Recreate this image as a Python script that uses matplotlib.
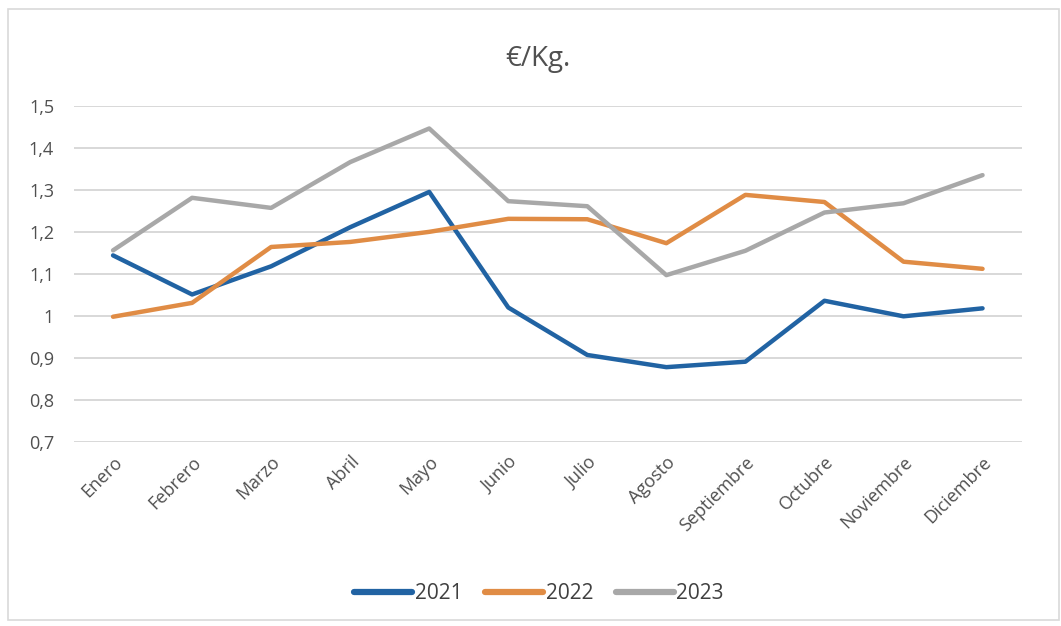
import matplotlib.pyplot as plt
from matplotlib.patches import Rectangle
from matplotlib.ticker import FuncFormatter

meses = ["Enero", "Febrero", "Marzo", "Abril", "Mayo", "Junio", "Julio",
         "Agosto", "Septiembre", "Octubre", "Noviembre", "Diciembre"]
v2021 = [1.144, 1.051, 1.118, 1.211, 1.295, 1.020, 0.907, 0.878, 0.891, 1.036, 0.999, 1.018]
v2022 = [0.998, 1.031, 1.164, 1.176, 1.200, 1.231, 1.230, 1.173, 1.288, 1.271, 1.129, 1.112]
v2023 = [1.156, 1.281, 1.257, 1.366, 1.446, 1.273, 1.261, 1.097, 1.155, 1.246, 1.268, 1.335]
series = [("2021", v2021, "#2163a3"), ("2022", v2022, "#e08c45"), ("2023", v2023, "#a8a8a8")]

plt.rcParams['font.family'] = ['Open Sans', 'DejaVu Sans']

fig = plt.figure(figsize=(10.61, 6.26), dpi=100)
ax = fig.add_axes([0.0693, 0.294, 0.894, 0.537])

x = range(len(meses))
for name, vals, col in series:
    ax.plot(x, vals, color=col, linewidth=3.2, label=name, solid_capstyle='round')

ax.set_xlim(-0.5, len(meses) - 0.5)
ax.set_ylim(0.7, 1.5)
ax.set_yticks([0.7, 0.8, 0.9, 1.0, 1.1, 1.2, 1.3, 1.4, 1.5])
ax.yaxis.set_major_formatter(FuncFormatter(lambda v, p: ("%g" % round(v, 1)).replace(".", ",")))
ax.set_xticks(list(x))
ax.set_xticklabels(meses, rotation=45, ha='right', rotation_mode='anchor')
ax.tick_params(axis='both', length=0, labelsize=13, labelcolor='#505050')
ax.tick_params(axis='x', pad=8)
ax.tick_params(axis='y', pad=14)
ax.grid(axis='y', color='#d6d6d6', linewidth=1.3)
ax.set_axisbelow(True)
for s in ax.spines.values():
    s.set_visible(False)

fig.text(0.507, 0.905, "€/Kg.", ha='center', va='center', fontsize=20, color='#505050')

leg = fig.legend(loc='center', bbox_to_anchor=(0.508, 0.052), ncol=3, frameon=False,
                 fontsize=15, handlelength=2.8, handletextpad=0.1, columnspacing=1.1,
                 labelcolor='#404040')
for h in leg.get_lines():
    h.set_linewidth(4.5)

fig.patches.append(Rectangle((0.008, 0.01), 0.99, 0.975, transform=fig.transFigure,
                             fill=False, edgecolor='#d9d9d9', linewidth=1.2))

fig.savefig("out.png", dpi=100)
